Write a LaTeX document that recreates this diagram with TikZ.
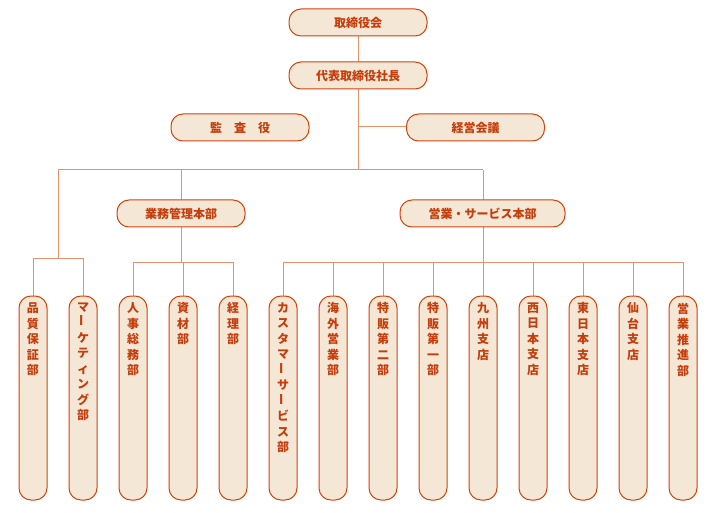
\documentclass[tikz,border=0pt]{standalone}
\usepackage{fontspec}
\usepackage{graphicx}
\setmainfont{Noto Sans CJK JP}
\definecolor{boxfill}{HTML}{F5E7D6}
\definecolor{boxline}{HTML}{D2440A}
\definecolor{linkline}{HTML}{E9906C}
\definecolor{labeltext}{HTML}{C63D0B}
\newcommand{\longbar}{\rotatebox{90}{ー}}
\tikzset{
  hbox/.style={draw=boxline, fill=boxfill, line width=1pt, rounded corners=12pt,
    minimum width=138pt, minimum height=27pt, text=labeltext, font=\bfseries\fontsize{12}{14}\selectfont},
  vbox/.style={draw=boxline, fill=boxfill, line width=1pt, rounded corners=12pt,
    minimum width=28pt, minimum height=204pt},
  vtext/.style={anchor=north, yshift=-7pt, align=center, inner sep=0pt, text=labeltext,
    font=\bfseries\fontsize{12}{15.5}\selectfont},
  link/.style={draw=linkline, line width=1pt}
}
\begin{document}
\begin{tikzpicture}[x=1pt, y=-1pt]
	\useasboundingbox (0,0) rectangle (720,513);
	
	% connectors
	\coordinate (trunk) at (358,170);
	\coordinate (left) at (58,170);
	\coordinate (right) at (483,170);
	\draw[link] (358,36) -- (trunk);
	\draw[link] (358,127) -- (406,127);
	\draw[link] (left) -- (right);
	\draw[link] (left) -- (58,258);
	\draw[link] (33,258) -- (83,258);
	\draw[link] (181,170) -- (181,262);
	\draw[link] (133,262) -- (233,262);
	\draw[link] (right) -- (483,262);
	\draw[link] (283,262) -- (683,262);
	\foreach \x/\y in {33/258, 83/258, 133/262, 183/262, 233/262, 283/262, 333/262, 383/262,
	  433/262, 483/262, 533/262, 583/262, 633/262, 683/262}
	{
		\draw[link] (\x,\y) -- (\x,296);
	}
	
	% upper boxes
	\node[hbox] (board) at (358,22.5) {取締役会};
	\node[hbox] (ceo) at (358,75.5) {代表取締役社長};
	\node[hbox] (audit) at (240,127.5) {監\hspace{1em}査\hspace{1em}役};
	\node[hbox] (council) at (475.5,127.5) {経営会議};
	\node[hbox, minimum width=128pt] (admin) at (181,213.5) {業務管理本部};
	\node[hbox, minimum width=165pt] (sales) at (482.5,213.5) {営業・サービス本部};
	
	% departments
	\foreach \x/\name/\txt in {
	  33/quality/品\\質\\保\\証\\部,
	  83/marketing/マ\\\longbar\\ケ\\テ\\ィ\\ン\\グ\\部,
	  133/hr/人\\事\\総\\務\\部,
	  183/material/資\\材\\部,
	  233/account/経\\理\\部,
	  283/service/カ\\ス\\タ\\マ\\\longbar\\サ\\\longbar\\ビ\\ス\\部,
	  333/overseas/海\\外\\営\\業\\部,
	  383/special2/特\\販\\第\\二\\部,
	  433/special1/特\\販\\第\\一\\部,
	  483/kyushu/九\\州\\支\\店,
	  533/west/西\\日\\本\\支\\店,
	  583/east/東\\日\\本\\支\\店,
	  633/sendai/仙\\台\\支\\店,
	  683/promo/営\\業\\推\\進\\部}
	{
		\node[vbox] (\name) at (\x,398) {};
		\node[vtext] at (\name.north) {\txt};
	}
\end{tikzpicture}
\end{document}
